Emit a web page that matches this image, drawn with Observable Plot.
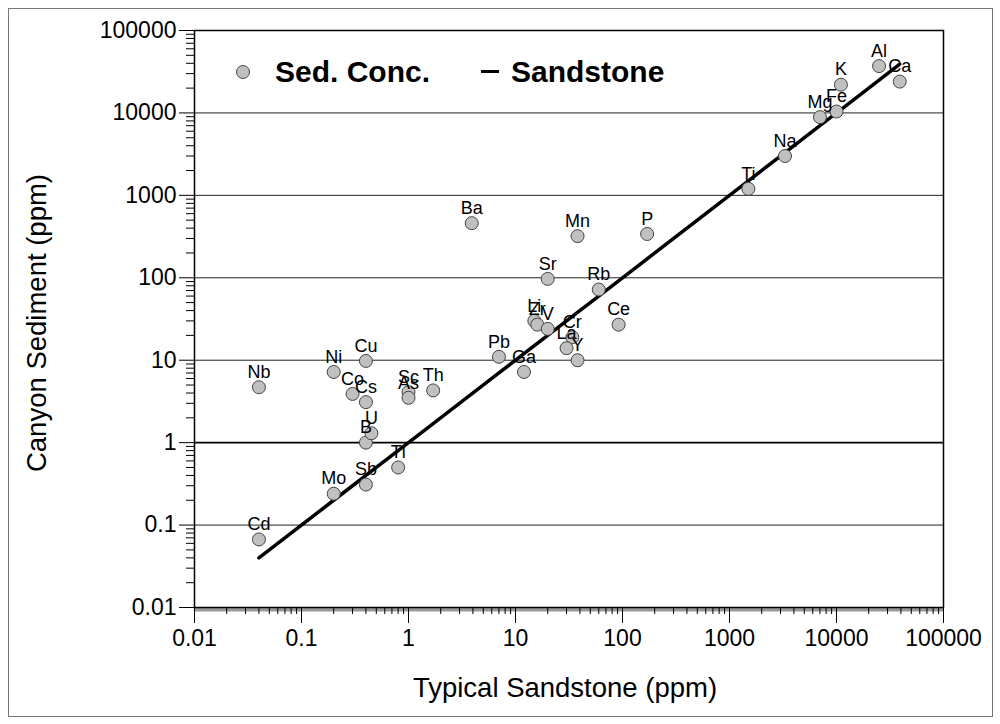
<!DOCTYPE html>
<html>
<head>
<meta charset="utf-8">
<script src="https://cdn.jsdelivr.net/npm/d3@7"></script>
<script src="https://cdn.jsdelivr.net/npm/@observablehq/plot@0.6"></script>
<style>
  html, body { margin: 0; padding: 0; background: #fff; }
  #wrap { position: relative; width: 1000px; height: 724px; font-family: "Liberation Sans", Arial, sans-serif; }
  #border { position: absolute; left: 8px; top: 8px; width: 983px; height: 707px; border: 1px solid #777; pointer-events: none; }
  #legend { position: absolute; left: 0; top: 0; width: 1000px; height: 724px; pointer-events: none; }
  .lg-dot { position: absolute; left: 236px; top: 65px; width: 12px; height: 12px; border-radius: 50%; background: #c0c0c0; border: 1px solid #444; }
  .lg-text { position: absolute; top: 54px; font-weight: bold; font-size: 30px; line-height: 36px; color: #000; white-space: nowrap; }
  .lg-dash { position: absolute; left: 481px; top: 70px; width: 18px; height: 3px; background: #000; }
</style>
</head>
<body>
<div id="wrap">
  <div id="chart"></div>
  <div id="legend">
    <div class="lg-dot"></div>
    <div class="lg-text" style="left:275px">Sed. Conc.</div>
    <div class="lg-dash"></div>
    <div class="lg-text" style="left:511px">Sandstone</div>
  </div>
  <div id="border"></div>
</div>
<script>
// ---- data ----
const elements  = ["Cd","Mo","Sb","Tl","B","U","Nb","Ni","Cu","Co","Cs","Sc","As","Th","Pb","Ga","Li","Zr","V","Cr","La","Y","Ce","Rb","Sr","Ba","Mn","P","Ti","Na","Mg","Fe","K","Al","Ca"];
const sandstone = [0.04,0.2,0.4,0.8,0.4,0.45,0.04,0.2,0.4,0.3,0.4,1.0,1.0,1.7,7,12,15,16,20,34,30,38,92,60,20,3.9,38,170,1500,3300,7000,10000,11000,25000,39000];
const sediment  = [0.067,0.24,0.31,0.5,1.0,1.3,4.7,7.2,9.8,3.9,3.1,4.1,3.5,4.3,11,7.2,30,27,24,19,14,10,27,72,97,460,320,340,1200,3000,8900,10400,22000,37000,24000];
const majorTicks = [0.01,0.1,1,10,100,1000,10000,100000];
const majorLabels = ["0.01","0.1","1","10","100","1000","10000","100000"];
const gridValues = [0.1,10,100,1000,10000];
const unityValue = [1];
const xTitle = "Typical Sandstone (ppm)";
const yTitle = "Canyon Sediment (ppm)";

const points = elements.map((e, i) => ({el: e, x: sandstone[i], y: sediment[i]}));
const lineData = points.map(p => ({x: p.x, y: p.x})).sort((a, b) => a.x - b.x);
const minorTicks = [];
for (let i = 0; i < majorTicks.length - 1; i++) {
  for (let k = 2; k <= 9; k++) minorTicks.push(+(majorTicks[i] * k).toPrecision(3));
}
const labelOf = d => majorLabels[majorTicks.indexOf(d)] ?? String(d);

const chart = Plot.plot({
  width: 1000,
  height: 724,
  marginLeft: 194,
  marginRight: 57,
  marginTop: 30,
  marginBottom: 117,
  style: {fontFamily: "'Liberation Sans', Arial, sans-serif", background: "transparent"},
  x: {type: "log", domain: [0.01, 100000], label: null},
  y: {type: "log", domain: [0.01, 100000], label: null},
  marks: [
    Plot.ruleY(gridValues, {stroke: "#222", strokeWidth: 1}),
    Plot.ruleY(unityValue, {stroke: "#000", strokeWidth: 1.6}),
    Plot.ruleY([0.01], {stroke: "#999", strokeWidth: 4, dy: 2}),
    Plot.axisX({ticks: minorTicks, tickSize: 7, tickFormat: () => "", stroke: "#000"}),
    Plot.axisY({ticks: minorTicks, tickSize: 8, tickFormat: () => "", stroke: "#000"}),
    Plot.axisX({ticks: majorTicks, tickSize: 16, tickPadding: 6, tickFormat: labelOf, fontSize: 23, fill: "#000", stroke: "#000"}),
    Plot.axisY({ticks: majorTicks, tickSize: 15, tickPadding: 3, tickFormat: labelOf, fontSize: 23, fill: "#000", stroke: "#000"}),
    Plot.frame({stroke: "#000", strokeWidth: 1.5}),
    Plot.line(lineData, {x: "x", y: "y", stroke: "#000", strokeWidth: 3.5}),
    Plot.dot(points, {x: "x", y: "y", r: 6.5, fill: "#c0c0c0", stroke: "#444", strokeWidth: 1}),
    Plot.text(points, {x: "x", y: "y", text: "el", dy: -15, fontSize: 18, fill: "#000"}),
    Plot.text([xTitle], {frameAnchor: "bottom", dx: -4, dy: 89, textAnchor: "middle", fontSize: 27.5, fill: "#000"}),
    Plot.text([yTitle], {frameAnchor: "left", dx: -157, dy: 4, rotate: -90, textAnchor: "middle", fontSize: 27.5, fill: "#000"})
  ]
});
document.getElementById("chart").appendChild(chart);
</script>
</body>
</html>
